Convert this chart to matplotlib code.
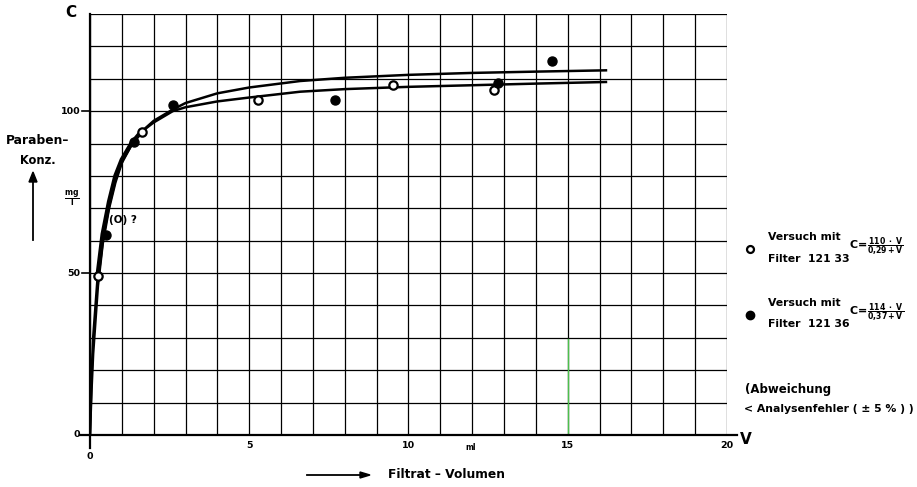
import matplotlib.pyplot as plt
from matplotlib.lines import Line2D

plt.rcParams['font.family'] = ['DejaVu Sans']
plt.rcParams['mathtext.default'] = 'bf'

# fitted curves (V in ml, C in mg/l)
v_fit = [0, 0.05, 0.1, 0.25, 0.4, 0.6, 0.8, 1.0, 1.3, 1.6, 2.0, 2.6, 3.0, 4.0, 5.0, 6.6, 8.0, 10.0, 12.0, 14.0, 16.2]
c_fit_33 = [0, 18, 30, 50, 62, 72, 80, 85, 90, 93.5, 96.5, 100, 101.2, 103, 104.2, 106, 106.8, 107.5, 108, 108.5, 109]
c_fit_36 = [0, 14, 25, 46, 59, 70, 78, 84, 89.5, 93.5, 97, 100.5, 102.5, 105.5, 107.3, 109.3, 110.3, 111.2, 111.8, 112.2, 112.6]

# measured points
v_33 = [0.25, 1.64, 5.28, 9.52, 12.7]
c_33 = [49, 93.7, 103.3, 108.2, 106.6]
v_36 = [0.49, 1.39, 2.62, 7.7, 12.8, 14.5]
c_36 = [61.6, 90.6, 101.8, 103.5, 108.7, 115.6]

x_ticks = [0, 5, 10, 15, 20]
y_ticks = [0, 50, 100]

fig = plt.figure(figsize=(9.17, 4.87), dpi=100)
ax = fig.add_axes([0.0981, 0.1068, 0.6947, 0.8645])
ax.set_xlim(0, 20)
ax.set_ylim(0, 130)

# millimetre-paper style grid
for x in range(0, 21):
    ax.axvline(x, color='black', lw=0.9, zorder=1)
for y in range(0, 131, 10):
    ax.axhline(y, color='black', lw=0.9, zorder=1)
# greenish scan artefact on the 15 ml line
ax.plot([15, 15], [0, 29.5], color='#4cc04c', lw=1.0, zorder=1.5)

for s in ax.spines.values():
    s.set_visible(False)
ax.set_xticks([])
ax.set_yticks([])

# axis lines, a little longer than the grid
ax.add_line(Line2D([0, 0], [-0.03, 1.0], transform=ax.transAxes, color='black', lw=1.6, clip_on=False))
ax.add_line(Line2D([-0.015, 1.015], [0, 0], transform=ax.transAxes, color='black', lw=1.6, clip_on=False))
for y in y_ticks:
    ax.plot([-0.25, 0], [y, y], color='black', lw=1.2, clip_on=False)

# tick labels
for y in y_ticks:
    ax.text(-0.3, y, str(y), ha='right', va='center', fontsize=6.8, fontweight='bold')
for x in x_ticks:
    dy = -6.5 if x == 0 else -3.3
    ax.text(x, dy, str(x), ha='center', va='center', fontsize=6.8, fontweight='bold')
ax.text(20.4, -1.5, 'V', ha='left', va='center', fontsize=11, fontweight='bold')
ax.text(-0.6, 130.5, 'C', ha='center', va='center', fontsize=11, fontweight='bold')
ax.text(11.95, -3.8, 'ml', ha='center', va='center', fontsize=5.5, fontweight='bold')

# curves and points (the hand-drawn start is heavier)
ax.plot(v_fit, c_fit_33, color='black', lw=1.8, zorder=3)
ax.plot(v_fit, c_fit_36, color='black', lw=1.8, zorder=3)
ax.plot(v_fit[3:10], c_fit_33[3:10], color='black', lw=3.2, zorder=3, solid_capstyle='round')
ax.plot(v_33, c_33, 'o', ms=6, mfc='white', mec='black', mew=1.6, zorder=4)
ax.plot(v_36, c_36, 'o', ms=6.5, mfc='black', mec='black', zorder=4)
ax.text(0.6, 66.5, '(O) ?', ha='left', va='center', fontsize=7.5, fontweight='bold', zorder=5)

# y-axis caption
fig.text(38 / 917, 1 - 140 / 487, 'Paraben\u2013', ha='center', va='center', fontsize=8.8, fontweight='bold')
fig.text(38 / 917, 1 - 160 / 487, 'Konz.', ha='center', va='center', fontsize=8.3, fontweight='bold')
fig.text(72 / 917, 1 - 199 / 487, r'$\frac{mg}{l}$', ha='center', va='center', fontsize=8)
fig.add_artist(plt.Line2D([33 / 917, 33 / 917], [1 - 240 / 487, 1 - 180 / 487], color='black', lw=1.3))
fig.patches.append(plt.Polygon([[29 / 917, 1 - 182 / 487], [37 / 917, 1 - 182 / 487], [33 / 917, 1 - 172 / 487]],
                               closed=True, color='black', transform=fig.transFigure, figure=fig))

# x-axis caption
fig.add_artist(plt.Line2D([307 / 917, 362 / 917], [1 - 475 / 487, 1 - 475 / 487], color='black', lw=1.3))
fig.patches.append(plt.Polygon([[360 / 917, 1 - 472 / 487], [360 / 917, 1 - 478 / 487], [370 / 917, 1 - 475 / 487]],
                               closed=True, color='black', transform=fig.transFigure, figure=fig))
fig.text(388 / 917, 1 - 475 / 487, 'Filtrat \u2013 Volumen', ha='left', va='center', fontsize=8.8, fontweight='bold')

# legend
fig.add_artist(Line2D([750 / 917], [1 - 249 / 487], marker='o', ms=5, mfc='white', mec='black', mew=1.6, ls='none'))
fig.text(768 / 917, 1 - 237 / 487, 'Versuch mit', ha='left', va='center', fontsize=7.8, fontweight='bold')
fig.text(768 / 917, 1 - 259 / 487, 'Filter  121 33', ha='left', va='center', fontsize=7.8, fontweight='bold')
fig.text(849 / 917, 1 - 247 / 487, r'$C\!=\!\frac{110\ \cdot\ V}{0{,}29+V}$', ha='left', va='center', fontsize=8)

fig.add_artist(Line2D([750 / 917], [1 - 315 / 487], marker='o', ms=6, mfc='black', mec='black', ls='none'))
fig.text(768 / 917, 1 - 303 / 487, 'Versuch mit', ha='left', va='center', fontsize=7.8, fontweight='bold')
fig.text(768 / 917, 1 - 324 / 487, 'Filter  121 36', ha='left', va='center', fontsize=7.8, fontweight='bold')
fig.text(849 / 917, 1 - 313 / 487, r'$C\!=\!\frac{114\ \cdot\ V}{0{,}37+V}$', ha='left', va='center', fontsize=8)

fig.text(745 / 917, 1 - 390 / 487, '(Abweichung', ha='left', va='center', fontsize=8.5, fontweight='bold')
fig.text(744 / 917, 1 - 409 / 487, '< Analysenfehler ( \u00b1 5 % ) )', ha='left', va='center', fontsize=7.8, fontweight='bold')

fig.savefig('out.png', dpi=100)
